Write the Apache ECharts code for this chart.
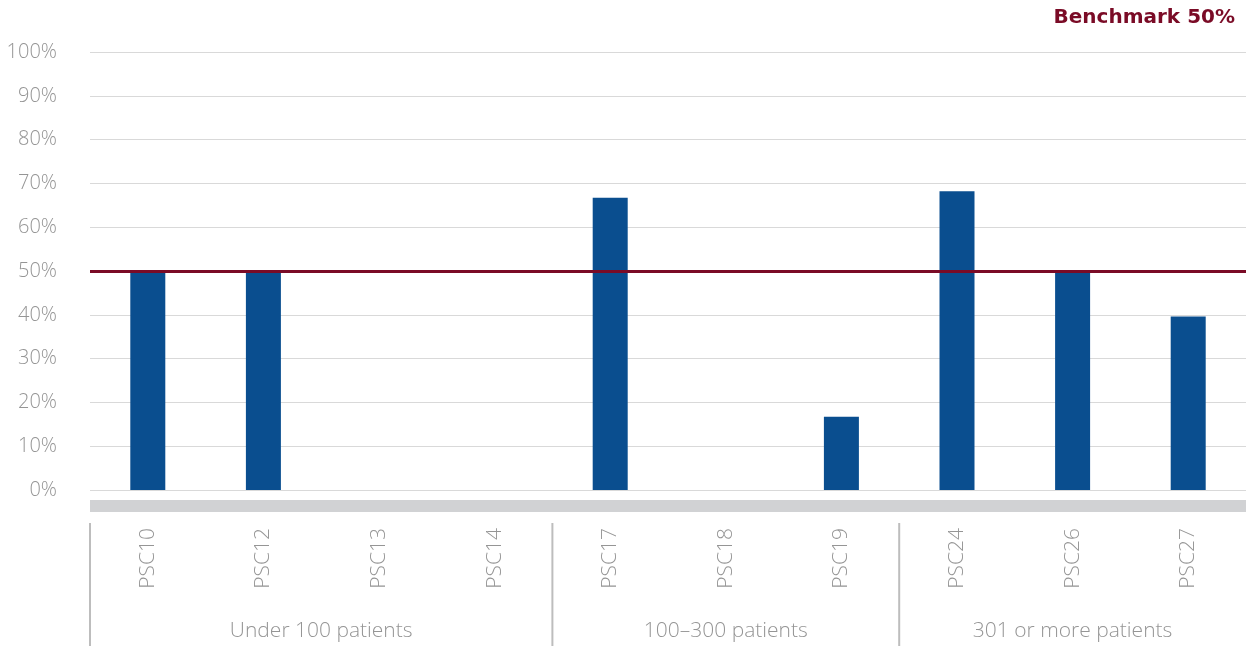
<!DOCTYPE html>
<html>
<head>
<meta charset="utf-8">
<script src="https://cdn.jsdelivr.net/npm/echarts@6/dist/echarts.min.js"></script>
<style>
  html, body { margin: 0; padding: 0; background: #fff; }
  #chart { width: 1246px; height: 646px; }
</style>
</head>
<body>
<div id="chart"></div>
<script>
// Share of patients per stroke centre, grouped by annual patient volume
const categories = ['PSC10', 'PSC12', 'PSC13', 'PSC14', 'PSC17', 'PSC18', 'PSC19', 'PSC24', 'PSC26', 'PSC27'];
const values = [50, 50, 0, 0, 66.7, 0, 16.7, 68.2, 50, 39.6];
const groupNames = ['Under 100 patients', '100\u2013300 patients', '301 or more patients'];
const groupSizes = [4, 3, 3];
const benchmark = 50;
const benchmarkLabel = 'Benchmark 50%';

const FONT = '"Open Sans", sans-serif';
const TITLE_FONT = '"DejaVu Sans", sans-serif';
const GREY_TEXT = '#959595';
const BAR_BLUE = '#0a4e8f';
const WINE = '#7a0b26';

const chart = echarts.init(document.getElementById('chart'), null, { renderer: 'canvas' });

chart.setOption({
  animation: false,
  title: {
    text: benchmarkLabel,
    right: 6,
    top: 3,
    textStyle: { fontFamily: TITLE_FONT, fontWeight: 'bold', fontSize: 20, color: WINE }
  },
  grid: { left: 90, right: 0, top: 52, bottom: 156 },
  xAxis: {
    type: 'category',
    data: categories,
    offset: 16,
    axisLine: { show: true, onZero: false, lineStyle: { color: '#d1d2d4', width: 12, cap: 'butt' } },
    axisTick: { show: false },
    axisLabel: {
      rotate: 90,
      margin: 22,
      fontFamily: FONT,
      fontSize: 21,
      fontWeight: 300,
      color: GREY_TEXT
    }
  },
  yAxis: {
    type: 'value',
    min: 0,
    max: 100,
    interval: 10,
    axisLine: { show: false },
    axisTick: { show: false },
    axisLabel: {
      formatter: '{value}%',
      margin: 33,
      fontFamily: FONT,
      fontSize: 20,
      fontWeight: 300,
      color: GREY_TEXT
    },
    splitLine: { lineStyle: { color: '#d9d9d9', width: 1 } }
  },
  series: [{
    type: 'bar',
    data: values,
    barWidth: 35,
    itemStyle: { color: BAR_BLUE },
    markLine: {
      symbol: 'none',
      silent: true,
      label: { show: false },
      lineStyle: { color: WINE, width: 3, type: 'solid' },
      data: [{ yAxis: benchmark }]
    },
    z: 2
  }]
});

// Group separators and group names beneath the category labels
function drawGroups() {
  const step = chart.convertToPixel({ xAxisIndex: 0 }, 1) - chart.convertToPixel({ xAxisIndex: 0 }, 0);
  const elements = [];
  let start = 0;
  groupSizes.forEach((size, i) => {
    const x0 = chart.convertToPixel({ xAxisIndex: 0 }, start) - step / 2;
    let x1 = chart.convertToPixel({ xAxisIndex: 0 }, start + size - 1) + step / 2;
    x1 = Math.min(x1, 1246);
    elements.push({
      type: 'line',
      shape: { x1: x0, y1: 523, x2: x0, y2: 646 },
      style: { stroke: '#bdbdbd', lineWidth: 2 },
      silent: true
    });
    elements.push({
      type: 'text',
      x: (x0 + x1) / 2,
      y: 631,
      style: {
        text: groupNames[i],
        fontFamily: FONT,
        fontSize: 21,
        fontWeight: 300,
        fill: GREY_TEXT,
        align: 'center',
        verticalAlign: 'middle'
      },
      silent: true
    });
    start += size;
  });
  chart.setOption({ graphic: elements });
}
drawGroups();
</script>
</body>
</html>
